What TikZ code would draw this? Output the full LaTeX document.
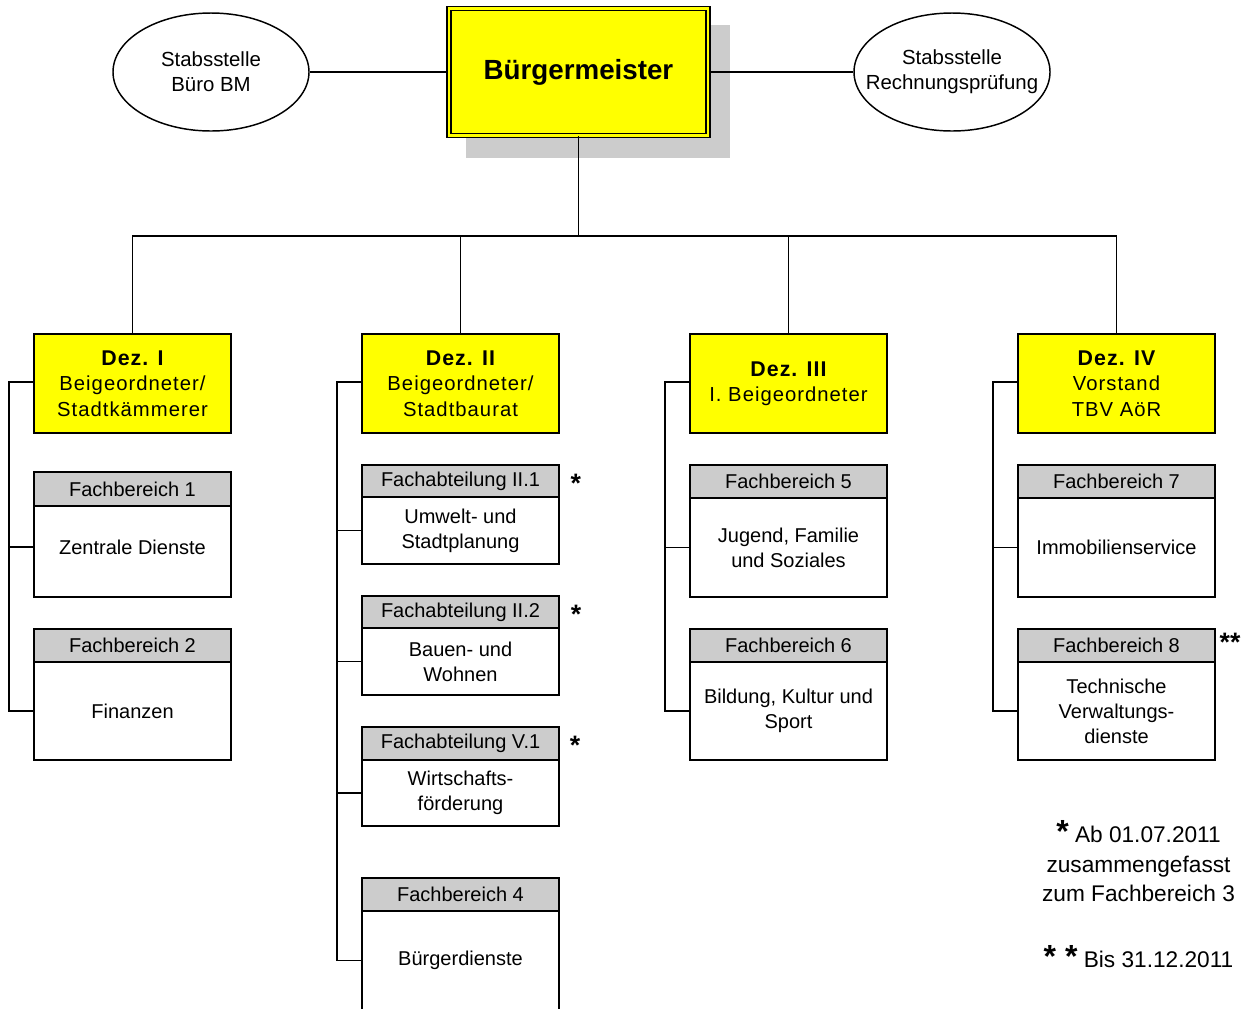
\documentclass[tikz,border=0pt]{standalone}
\usepackage{fontspec}
\setmainfont{Liberation Sans}
\newfontfamily\dezfont[LetterSpace=5]{Liberation Sans}
\usetikzlibrary{shapes.geometric}
\definecolor{hdrgray}{HTML}{CCCCCC}
\definecolor{shadowgray}{HTML}{CCCCCC}
\definecolor{bmyellow}{HTML}{FFFF00}
\newcommand\dezhead[1]{{\bfseries\fontsize{16}{19}\selectfont #1}}
\tikzset{
  conn/.style={line width=1.1pt, black},
  bmbox/.style={draw, line width=1pt, double=bmyellow, double distance=2pt, fill=bmyellow,
    minimum width=259*0.75pt, minimum height=127*0.75pt, inner sep=0pt,
    font=\bfseries\fontsize{20.8}{24}\selectfont},
  stab/.style={ellipse, draw, line width=1.1pt, minimum width=196*0.75pt, minimum height=118*0.75pt,
    inner xsep=-16pt, inner ysep=0pt, align=center, font=\fontsize{15.3}{18.75}\selectfont},
  dezbox/.style={draw, line width=1.1pt, fill=bmyellow, minimum width=197*0.75pt,
    minimum height=99*0.75pt, inner sep=0pt, outer sep=0pt, align=center,
    font=\dezfont\fontsize{15.2}{19}\selectfont},
  hdr/.style={draw, line width=1.1pt, fill=hdrgray, minimum width=197*0.75pt, inner sep=0pt,
    outer sep=0pt, font=\fontsize{15}{18.75}\selectfont},
  body/.style={draw, line width=1.1pt, fill=white, minimum width=197*0.75pt, inner sep=0pt,
    outer sep=0pt, align=center, anchor=north, font=\fontsize{15}{18.75}\selectfont},
  star/.style={font=\bfseries\fontsize{20}{20}\selectfont, inner sep=0pt, anchor=base},
  note/.style={font=\fontsize{17}{22}\selectfont, inner sep=0pt, anchor=base},
}
\begin{document}
\begin{tikzpicture}[x=0.75pt,y=-0.75pt]
\useasboundingbox (0,0) rectangle (1251,1008);
\clip (0,0) rectangle (1251,1008);
% shadow of the Buergermeister box
\fill[shadowgray] (466,25) rectangle (730,158);
% top level
\node[bmbox] (bm) at (578.5,72) {Bürgermeister};
\node[stab] (e1) at (211,72) {Stabsstelle\\Büro BM};
\node[stab] (e2) at (952,72) {Stabsstelle\\Rechnungsprüfung};
% Dezernate
\node[dezbox] (d1) at (132.5,383.5) {\dezhead{Dez. I}\\Beigeordneter/\\Stadtkämmerer};
\node[dezbox] (d2) at (460.5,383.5) {\dezhead{Dez. II}\\Beigeordneter/\\Stadtbaurat};
\node[dezbox] (d3) at (788.5,383.5) {\dezhead{Dez. III}\\I. Beigeordneter};
\node[dezbox] (d4) at (1116.5,383.5) {\dezhead{Dez. IV}\\Vorstand\\TBV AöR};
% column I
\node[hdr, minimum height=34*0.75pt] (h1) at (132.5,489) {Fachbereich 1};
\node[body, minimum height=91*0.75pt, text depth=6.5pt] (b1) at (h1.south) {Zentrale Dienste};
\node[hdr, minimum height=33*0.75pt] (h2) at (132.5,645.5) {Fachbereich 2};
\node[body, minimum height=98*0.75pt] (b2) at (h2.south) {Finanzen};
% column II
\node[hdr, minimum height=32*0.75pt] (h21) at (460.5,481) {Fachabteilung II.1};
\node[body, minimum height=67*0.75pt] (b21) at (h21.south) {Umwelt- und\\Stadtplanung};
\node[hdr, minimum height=32*0.75pt] (h22) at (460.5,612) {Fachabteilung II.2};
\node[body, minimum height=67*0.75pt] (b22) at (h22.south) {Bauen- und\\Wohnen};
\node[hdr, minimum height=33*0.75pt] (h23) at (460.5,743.5) {Fachabteilung V.1};
\node[body, minimum height=66*0.75pt] (b23) at (h23.south) {Wirtschafts-\\förderung};
\node[hdr, minimum height=33*0.75pt] (h24) at (460.5,894.5) {Fachbereich 4};
\node[body, minimum height=99*0.75pt] (b24) at (h24.south) {Bürgerdienste};
% column III
\node[hdr, minimum height=33*0.75pt] (h5) at (788.5,481.5) {Fachbereich 5};
\node[body, minimum height=99*0.75pt] (b5) at (h5.south) {Jugend, Familie\\und Soziales};
\node[hdr, minimum height=33*0.75pt] (h6) at (788.5,645.5) {Fachbereich 6};
\node[body, minimum height=98*0.75pt] (b6) at (h6.south) {Bildung, Kultur und\\Sport};
% column IV
\node[hdr, minimum height=33*0.75pt] (h7) at (1116.5,481.5) {Fachbereich 7};
\node[body, minimum height=99*0.75pt] (b7) at (h7.south) {Immobilienservice};
\node[hdr, minimum height=33*0.75pt] (h8) at (1116.5,645.5) {Fachbereich 8};
\node[body, minimum height=98*0.75pt] (b8) at (h8.south) {Technische\\Verwaltungs-\\dienste};
% markers
\node[star] (s1) at (575.7,492) {*};
\node[star] (s2) at (576,623) {*};
\node[star] (s3) at (575,754) {*};
\node[star] (s4) at (1230,651) {**};
% notes
\node[note] (n1) at (1138.5,842.7) {{\bfseries\fontsize{24}{24}\selectfont *} Ab 01.07.2011};
\node[note] (n2) at (1138.5,872) {zusammengefasst};
\node[note] (n3) at (1138.5,901) {zum Fachbereich 3};
\node[note] (n4) at (1138.5,967) {{\bfseries\fontsize{24}{24}\selectfont * *} Bis 31.12.2011};
% connectors top
\draw[conn] (e1.east) -- (bm.west);
\draw[conn] (bm.east) -- (e2.west);
\coordinate (bus) at (578.5,236);
\draw[conn] (bm.south) -- (bus);
\draw[conn] (d1.north) |- (bus) -| (d4.north);
\draw[conn] (d2.north) -- (d2.north |- bus);
\draw[conn] (d3.north) -- (d3.north |- bus);
% column brackets
\draw[conn] ([yshift=1pt]d1.west) -- ++(-25,0) |- (b2.west);
\draw[conn] ([yshift=3.4pt]b1.west) -- ++(-25,0);
\draw[conn] ([yshift=1pt]d2.west) -- ++(-25,0) |- (b24.west);
\draw[conn] (b21.west) -- ++(-25,0);
\draw[conn] (b22.west) -- ++(-25,0);
\draw[conn] (b23.west) -- ++(-25,0);
\draw[conn] ([yshift=1pt]d3.west) -- ++(-25,0) |- (b6.west);
\draw[conn] (b5.west) -- ++(-25,0);
\draw[conn] ([yshift=1pt]d4.west) -- ++(-25,0) |- (b8.west);
\draw[conn] (b7.west) -- ++(-25,0);
\end{tikzpicture}
\end{document}
